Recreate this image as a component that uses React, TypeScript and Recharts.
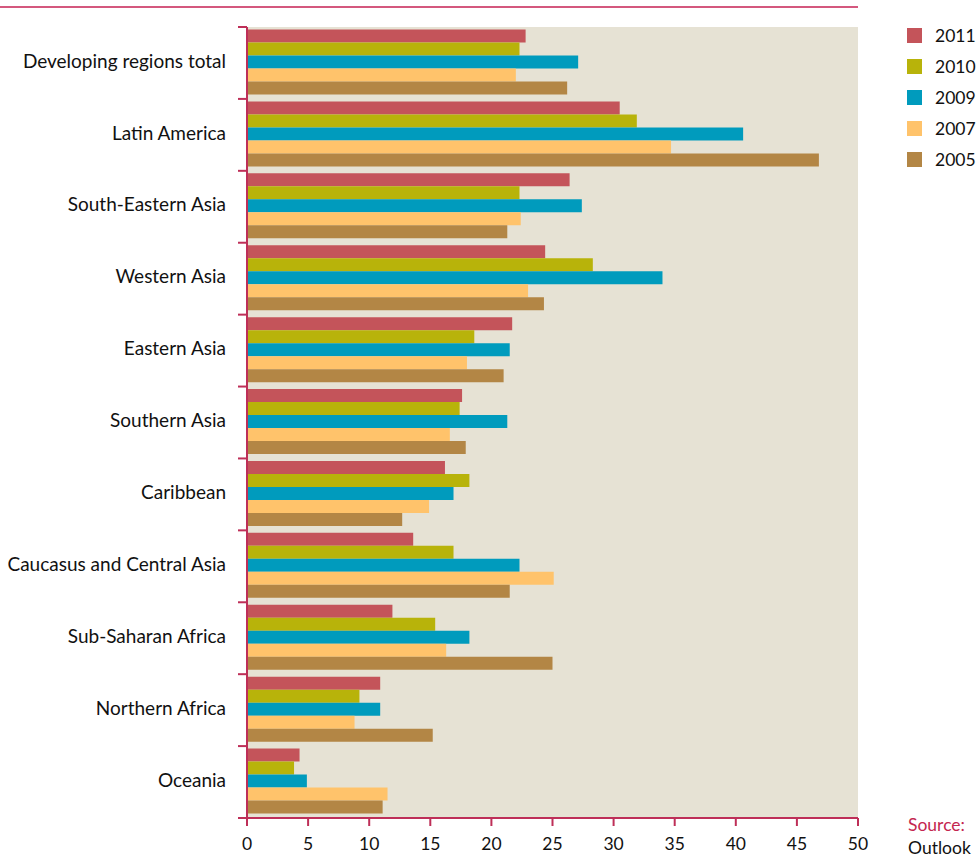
import { BarChart, Bar, XAxis, YAxis, CartesianGrid } from "recharts";

const regions: string[] = [
  "Developing regions total",
  "Latin America",
  "South-Eastern Asia",
  "Western Asia",
  "Eastern Asia",
  "Southern Asia",
  "Caribbean",
  "Caucasus and Central Asia",
  "Sub-Saharan Africa",
  "Northern Africa",
  "Oceania",
];

const y2011: number[] = [22.8, 30.5, 26.4, 24.4, 21.7, 17.6, 16.2, 13.6, 11.9, 10.9, 4.3];
const y2010: number[] = [22.3, 31.9, 22.3, 28.3, 18.6, 17.4, 18.2, 16.9, 15.4, 9.2, 3.85];
const y2009: number[] = [27.1, 40.6, 27.4, 34.0, 21.5, 21.3, 16.9, 22.3, 18.2, 10.9, 4.9];
const y2007: number[] = [22.0, 34.7, 22.4, 23.0, 18.0, 16.6, 14.9, 25.1, 16.3, 8.8, 11.5];
const y2005: number[] = [26.2, 46.8, 21.3, 24.3, 21.0, 17.9, 12.7, 21.5, 25.0, 15.2, 11.1];

const xTicks: number[] = [0, 5, 10, 15, 20, 25, 30, 35, 40, 45, 50];

const series = [
  { key: "2011", color: "#C4545A" },
  { key: "2010", color: "#B8B30A" },
  { key: "2009", color: "#009BBD" },
  { key: "2007", color: "#FFC36B" },
  { key: "2005", color: "#B38645" },
];

const data = regions.map((region, i) => ({
  region,
  "2011": y2011[i],
  "2010": y2010[i],
  "2009": y2009[i],
  "2007": y2007[i],
  "2005": y2005[i],
}));

const FONT = "Lato, 'Open Sans', sans-serif";
const AXIS = "#BE2F58";
const TOP = 27;
const BOTTOM = 818;
const BAND = (BOTTOM - TOP) / regions.length;

// category label in the middle, tick marks on the band edges
const RegionTick = (props: any) => {
  const { x, y, payload, index } = props;
  return (
    <g>
      <line x1={x - 9} x2={x} y1={y - BAND / 2} y2={y - BAND / 2} stroke={AXIS} strokeWidth={2} />
      {index === regions.length - 1 && (
        <line x1={x - 9} x2={x} y1={y + BAND / 2} y2={y + BAND / 2} stroke={AXIS} strokeWidth={2} />
      )}
      <text x={x - 21} y={y - 2} dy="0.35em" textAnchor="end" fontSize={19} fill="#111" fontFamily={FONT}>
        {payload.value}
      </text>
    </g>
  );
};

const App = () => {
  return (
    <div style={{ position: "absolute", left: 0, top: 0, width: 978, height: 861, background: "#fff" }}>
      <div style={{ position: "absolute", left: 0, top: 6, width: 858, height: 2, background: "#D4587E" }} />
      <BarChart
        width={978}
        height={861}
        layout="vertical"
        data={data}
        margin={{ top: TOP, right: 120, left: 0, bottom: 861 - BOTTOM - 30 }}
        barCategoryGap={2.5}
        barGap={0}
      >
        <CartesianGrid fill="#E6E2D4" horizontal={false} vertical={false} />
        <XAxis
          type="number"
          domain={[0, 50]}
          ticks={xTicks}
          interval={0}
          height={30}
          axisLine={{ stroke: AXIS, strokeWidth: 2 }}
          tickLine={{ stroke: AXIS, strokeWidth: 2 }}
          tickSize={8}
          tickMargin={12}
          tick={{ fontSize: 17.5, fill: "#111", fontFamily: FONT }}
        />
        <YAxis
          type="category"
          dataKey="region"
          width={247}
          axisLine={{ stroke: AXIS, strokeWidth: 2 }}
          tickLine={false}
          tickSize={0}
          tickMargin={0}
          interval={0}
          tick={<RegionTick />}
        />
        {series.map((s) => (
          <Bar key={s.key} dataKey={s.key} fill={s.color} isAnimationActive={false} />
        ))}
      </BarChart>
      <div style={{ position: "absolute", left: 907, top: 20, fontFamily: FONT, fontSize: 17.5, color: "#111" }}>
        {series.map((s) => (
          <div key={s.key} style={{ display: "flex", alignItems: "center", height: 31 }}>
            <span style={{ width: 15, height: 15, background: s.color, marginRight: 13, display: "inline-block" }} />
            <span>{s.key}</span>
          </div>
        ))}
      </div>
      <div style={{ position: "absolute", left: 908, top: 814, fontFamily: FONT, fontSize: 17.5, color: "#C4264F" }}>
        Source:
      </div>
      <div style={{ position: "absolute", left: 908, top: 837, fontFamily: FONT, fontSize: 17.5, color: "#111" }}>
        Outlook
      </div>
    </div>
  );
};

export default App;
